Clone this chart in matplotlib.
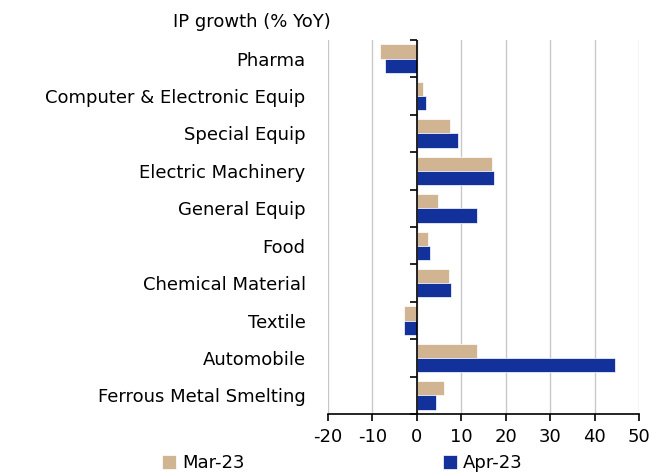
import matplotlib
matplotlib.use('Agg')
import matplotlib.pyplot as plt
import numpy as np

plt.rcParams['font.family'] = ['DejaVu Sans']

# ===== data =====
categories = ['Pharma', 'Computer & Electronic Equip', 'Special Equip',
              'Electric Machinery', 'General Equip', 'Food',
              'Chemical Material', 'Textile', 'Automobile',
              'Ferrous Metal Smelting']
mar23 = [-8.2, 1.3, 7.4, 17.0, 4.7, 2.6, 7.2, -2.9, 13.6, 6.1]
apr23 = [-7.1, 2.0, 9.2, 17.4, 13.6, 3.0, 7.6, -2.9, 44.7, 4.4]
series_names = ['Mar-23', 'Apr-23']
xticks = [-20, -10, 0, 10, 20, 30, 40, 50]

TAN = '#D1B592'
BLUE = '#13319A'
FS = 13

fig = plt.figure(figsize=(6.52, 4.75), dpi=100)
ax = fig.add_axes([0.503, 0.128, 0.477, 0.788])

y = np.arange(len(categories))
h = 0.38
ax.barh(y - h / 2, mar23, height=h, color=TAN, edgecolor='white', linewidth=0.5,
        label=series_names[0], zorder=3)
ax.barh(y + h / 2, apr23, height=h, color=BLUE, edgecolor='white', linewidth=0.5,
        label=series_names[1], zorder=3)

ax.set_xlim(-20, 50)
ax.set_ylim(len(categories) - 0.5, -0.5)
ax.set_xticks(xticks)
ax.set_xticklabels([str(v) for v in xticks], fontsize=FS)
ax.tick_params(axis='x', direction='out', length=5, width=1.2, color='black', pad=5)
ax.set_yticks(y)
ax.set_yticklabels(categories, fontsize=FS)
ax.tick_params(axis='y', length=0, pad=16)
ax.grid(axis='x', color='#C8C8C8', linewidth=1, zorder=0)

for s in ['top', 'right', 'left']:
    ax.spines[s].set_visible(False)
ax.spines['bottom'].set_linewidth(1.2)

# category axis at zero with ticks between groups
ax.axvline(0, color='black', linewidth=1.2, zorder=4)
sec = ax.secondary_yaxis((0 - (-20)) / 70)
sec.set_yticks(np.arange(len(categories) + 1) - 0.5)
sec.set_yticklabels([])
sec.tick_params(axis='y', direction='out', length=5, width=1.2)
sec.spines['left'].set_visible(False)

fig.text(0.507, 0.953, 'IP growth (% YoY)', fontsize=FS, ha='right', va='center')

fig.legend(loc='center', bbox_to_anchor=(0.525, 0.025), ncol=2, frameon=False,
           fontsize=FS, handlelength=0.8, handleheight=0.8, handletextpad=0.3,
           columnspacing=11, borderpad=0.1)

fig.savefig('out.png', dpi=100)
